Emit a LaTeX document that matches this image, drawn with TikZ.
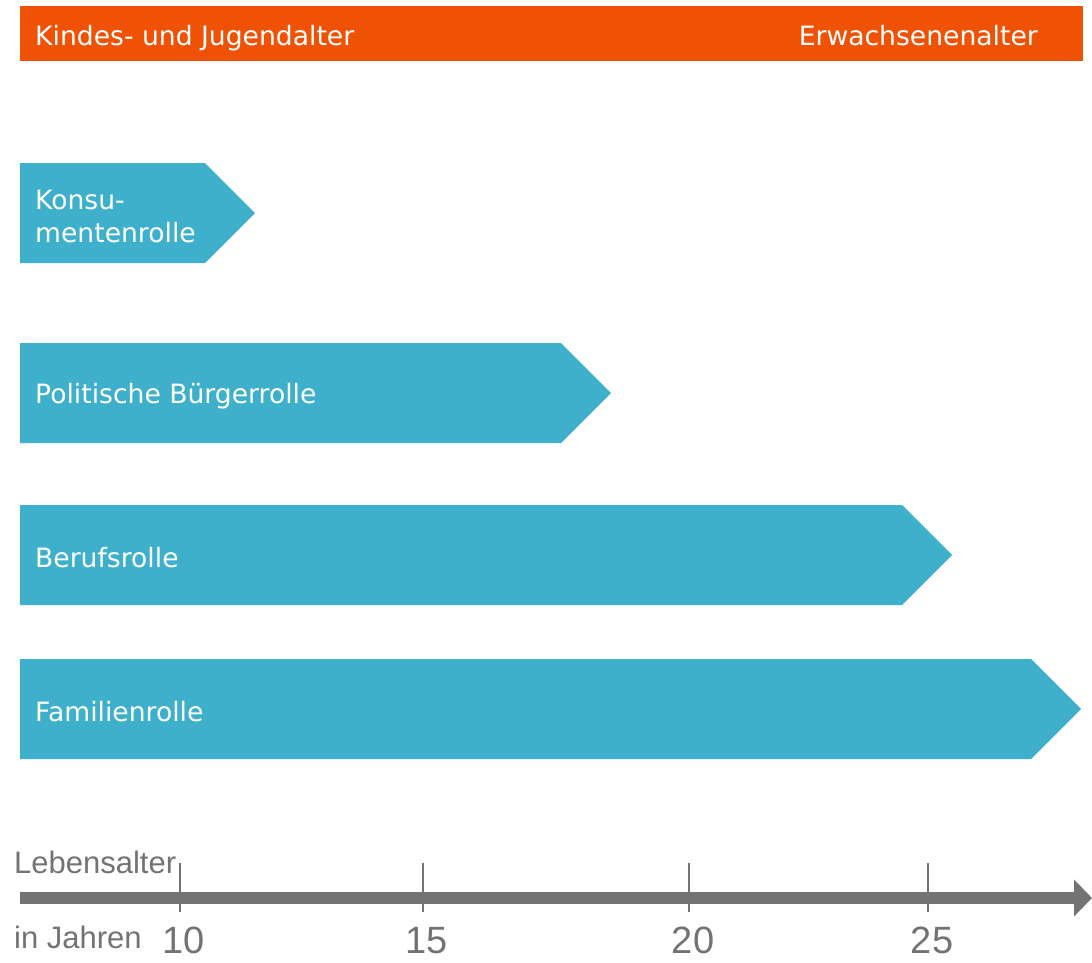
\documentclass[tikz,border=0pt]{standalone}
\usepackage{fontspec}
\setmainfont{DejaVu Sans}
\newfontfamily\axisfont{Liberation Sans}
\usetikzlibrary{arrows.meta}
\definecolor{barCol}{rgb}{0.941, 0.322, 0.020}
\definecolor{roleCol}{rgb}{0.243, 0.690, 0.800}
\definecolor{axisCol}{rgb}{0.451, 0.451, 0.451}

\begin{document}
\begin{tikzpicture}[x=1pt,y=-1pt,
    bartext/.style={text=white,font=\fontsize{26.6}{33}\selectfont,inner sep=0pt},
    axistext/.style={text=axisCol,font=\axisfont\fontsize{31}{36}\selectfont,inner sep=0pt},
    yeartext/.style={text=axisCol,font=\axisfont\fontsize{38}{44}\selectfont,inner sep=0pt}]
  \useasboundingbox (0,0) rectangle (1092,962);
%  \draw [help lines,step=50] (0,0) grid (1092,962);
  % age bar on top
  \fill [barCol] (20,6) rectangle (1083,61);
  \node [bartext,anchor=base west] (kind) at (35,45) {Kindes- und Jugendalter};
  \node [bartext,anchor=base east] (erw) at (1038,45) {Erwachsenenalter};
  % roles: top edge / end of the rectangle / name / text
  \foreach \y/\xe/\name/\txt in {163/205/konsum/{Konsu-\\mentenrolle},
      343/561/polit/{Politische Bürgerrolle},
      505/902/beruf/{Berufsrolle},
      659/1031/famil/{Familienrolle}} {
    \fill [roleCol] (20,\y) -- (\xe,\y) -- (\xe+50,\y+50) -- (\xe,\y+100)
      -- (20,\y+100) -- cycle;
    \node [bartext,anchor=west,align=left] (\name) at (35,\y+53) {\txt};
  }
  % age axis
  \coordinate (axstart) at (20,898);
  \coordinate (axend) at (1092,898);
  \draw [-{Triangle[length=18pt,width=36pt]},line width=12pt,axisCol] (axstart) -- (axend);
  \foreach \x/\a in {180/10,423/15,689/20,928/25} {
    \draw [line width=2.5pt,axisCol] (\x,863) -- (\x,912);
    \node [yeartext,anchor=base] (age\a) at (\x+4,953) {\a};
  }
  \node [axistext,anchor=base west] (leben) at (14,873) {Lebensalter};
  \node [axistext,anchor=base west] (jahre) at (14,948) {in Jahren};
\end{tikzpicture}
\end{document}
